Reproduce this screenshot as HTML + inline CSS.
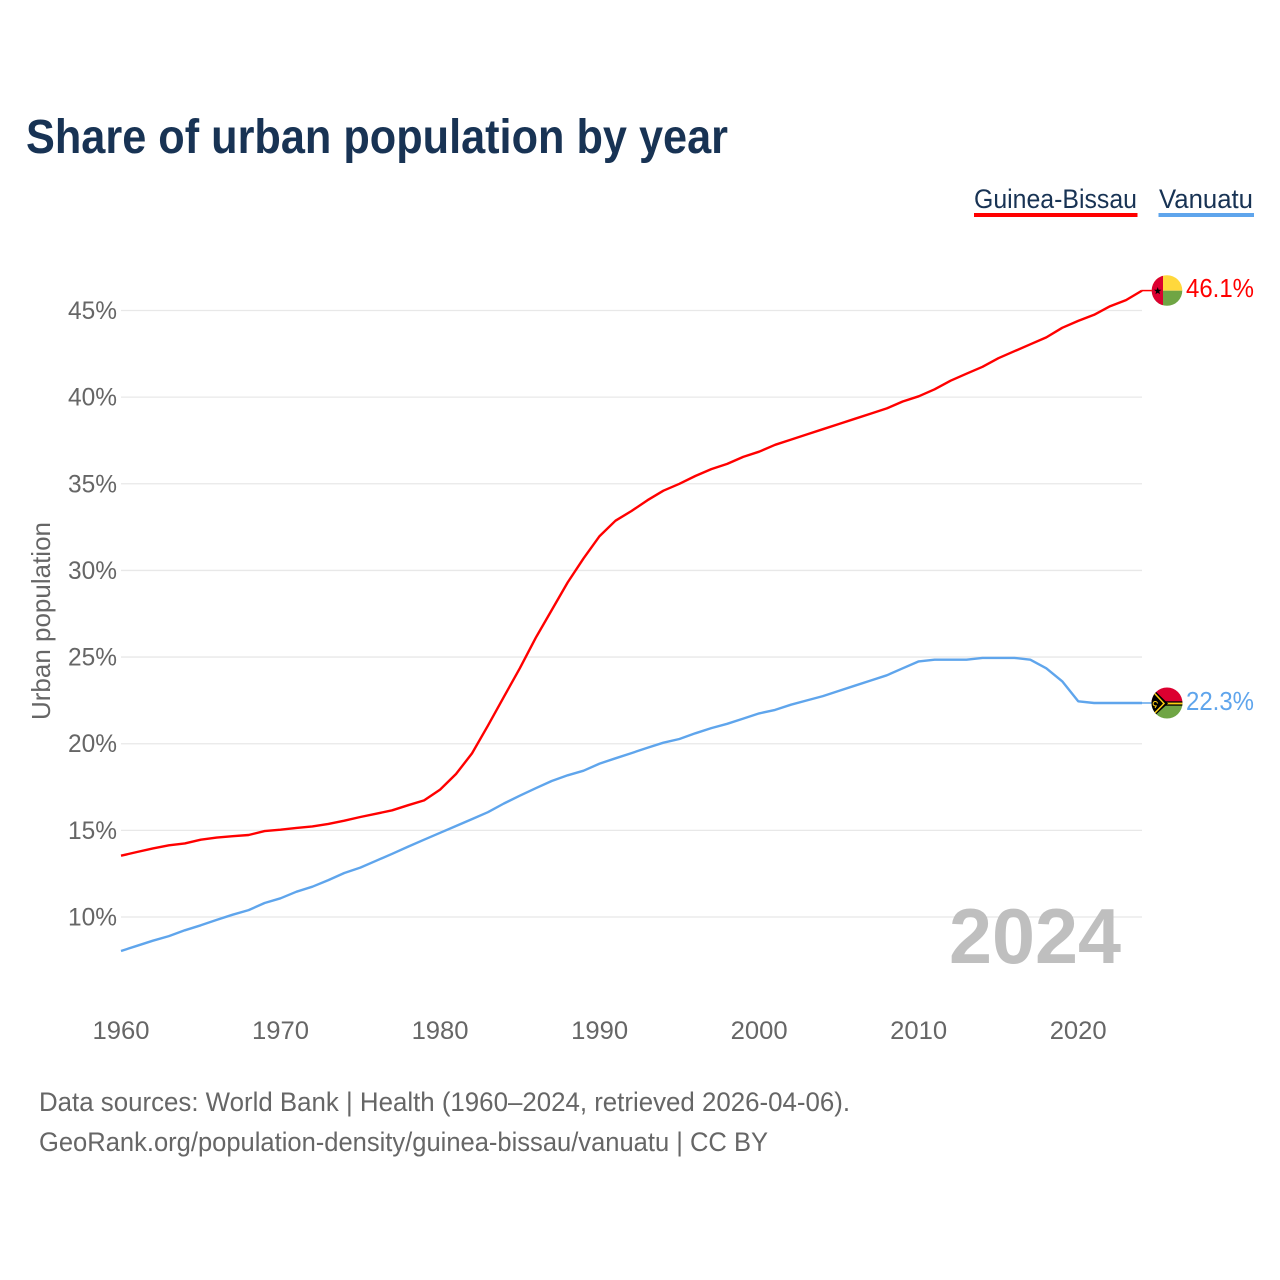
<!DOCTYPE html>
<html lang="en">
<head>
<meta charset="utf-8">
<title>Share of urban population by year</title>
<style>
html,body{margin:0;padding:0;background:#fff;}
svg{display:block;font-family:"Liberation Sans",sans-serif;}
</style>
</head>
<body>
<svg id="chart" width="1280" height="1280" viewBox="0 0 1280 1280" xmlns="http://www.w3.org/2000/svg">
  <defs>
    <clipPath id="clip-gb"><circle cx="1167" cy="290.5" r="15.3"/></clipPath>
    <clipPath id="clip-vu"><circle cx="1167" cy="703" r="15.5"/></clipPath>
  </defs>
  <rect width="1280" height="1280" fill="#fff"/>
  <text x="26" y="153" font-size="48" font-weight="700" fill="#183354" textLength="702" lengthAdjust="spacingAndGlyphs">Share of urban population by year</text>

  <g>
    <g>
      <text x="974" y="208" font-size="27" fill="#183354" textLength="163" lengthAdjust="spacingAndGlyphs">Guinea-Bissau</text>
      <rect x="974" y="213" width="163.5" height="4" fill="#ff0000"/>
    </g>
    <g>
      <text x="1159" y="208" font-size="27" fill="#183354" textLength="94" lengthAdjust="spacingAndGlyphs">Vanuatu</text>
      <rect x="1158.5" y="213" width="95.5" height="4" fill="#5fa5ec"/>
    </g>
  </g>

  <g id="grid"></g>
  <g id="yticks"></g>
  <g id="xticks"></g>
  <text transform="translate(50,621) rotate(-90)" text-anchor="middle" font-size="26" fill="#666" textLength="198" lengthAdjust="spacingAndGlyphs">Urban population</text>

  <text x="949" y="963" font-size="78" font-weight="700" fill="#bfbfbf" textLength="172" lengthAdjust="spacingAndGlyphs">2024</text>

  <g id="series"></g>

  <g clip-path="url(#clip-gb)">
    <rect x="1151" y="275" width="32" height="15.7" fill="#ffd83c"/>
    <rect x="1151" y="290.7" width="32" height="16" fill="#6fa544"/>
    <rect x="1151" y="275" width="12" height="32" fill="#dc0030"/>
    <polygon points="1157.7,287 1158.6,289.8 1161.5,289.8 1159.2,291.5 1160,294.3 1157.7,292.6 1155.4,294.3 1156.2,291.5 1153.9,289.8 1156.8,289.8" fill="#000"/>
  </g>
  <g clip-path="url(#clip-vu)">
    <rect x="1151" y="687" width="32" height="16" fill="#dc0030"/>
    <rect x="1151" y="703" width="32" height="16" fill="#6fa544"/>
    <rect x="1160" y="701.3" width="23" height="4.4" fill="#000"/>
    <rect x="1163" y="702.6" width="20" height="1.8" fill="#fdce12"/>
    <polygon points="1151,687 1151,719 1168,703.5" fill="#000"/>
    <polyline points="1151,689.5 1164,703.5 1151,717" fill="none" stroke="#fdce12" stroke-width="1.5"/>
    <path d="M1157.5,703.5 a2.2,2.2 0 1 0 -1,2 l-1.5,2.5" fill="none" stroke="#fdce12" stroke-width="1"/>
  </g>

  <text id="value-guinea-bissau" x="1186" y="297" font-size="26" fill="#ff0000" textLength="68" lengthAdjust="spacingAndGlyphs">46.1%</text>
  <text id="value-vanuatu" x="1186" y="710" font-size="26" fill="#5fa5ec" textLength="68" lengthAdjust="spacingAndGlyphs">22.3%</text>

  <g>
    <text x="39" y="1111" font-size="26.5" fill="#666" textLength="811" lengthAdjust="spacingAndGlyphs">Data sources: World Bank | Health (1960–2024, retrieved 2026-04-06).</text>
    <text x="39" y="1151" font-size="26.5" fill="#666" textLength="729" lengthAdjust="spacingAndGlyphs">GeoRank.org/population-density/guinea-bissau/vanuatu | CC BY</text>
  </g>
</svg>
<script>
const years = [1960,1961,1962,1963,1964,1965,1966,1967,1968,1969,1970,1971,1972,1973,1974,1975,1976,1977,1978,1979,1980,1981,1982,1983,1984,1985,1986,1987,1988,1989,1990,1991,1992,1993,1994,1995,1996,1997,1998,1999,2000,2001,2002,2003,2004,2005,2006,2007,2008,2009,2010,2011,2012,2013,2014,2015,2016,2017,2018,2019,2020,2021,2022,2023,2024];
const guineaBissau = [13.54,13.75,13.96,14.14,14.25,14.46,14.58,14.66,14.73,14.96,15.04,15.14,15.23,15.37,15.56,15.77,15.96,16.16,16.45,16.73,17.35,18.25,19.44,21.04,22.71,24.35,26.12,27.71,29.31,30.7,31.98,32.87,33.43,34.05,34.6,35.0,35.45,35.85,36.15,36.55,36.85,37.25,37.55,37.85,38.15,38.45,38.75,39.05,39.35,39.75,40.05,40.45,40.95,41.35,41.75,42.25,42.65,43.05,43.45,44.0,44.4,44.75,45.25,45.6,46.15];
const vanuatu = [8.04,8.34,8.63,8.9,9.23,9.52,9.83,10.13,10.4,10.81,11.08,11.46,11.75,12.13,12.54,12.85,13.25,13.65,14.06,14.46,14.86,15.25,15.65,16.05,16.55,17.0,17.43,17.85,18.18,18.44,18.85,19.16,19.46,19.77,20.06,20.27,20.6,20.9,21.15,21.45,21.75,21.95,22.25,22.5,22.75,23.05,23.35,23.65,23.95,24.35,24.75,24.85,24.85,24.85,24.95,24.95,24.95,24.85,24.35,23.6,22.45,22.35,22.35,22.35,22.35];
const yTickValues = [10,15,20,25,30,35,40,45];
const yTickLabels = ["10%","15%","20%","25%","30%","35%","40%","45%"];
const xTickValues = [1960,1970,1980,1990,2000,2010,2020];
const xTickLabels = ["1960","1970","1980","1990","2000","2010","2020"];

const NS = "http://www.w3.org/2000/svg";
function xScale(year){ return 121 + (year - 1960) * (1142 - 121) / 64; }
function yScale(value){ return 917 - (value - 10) * (917 - 310.5) / 35; }

const gridGroup = document.getElementById("grid");
const yTickGroup = document.getElementById("yticks");
const xTickGroup = document.getElementById("xticks");
const seriesGroup = document.getElementById("series");

yTickValues.forEach(function(v, i){
  const line = document.createElementNS(NS, "line");
  
  
  line.setAttribute("x1", xScale(1960));
  line.setAttribute("x2", xScale(2024));
  line.setAttribute("y1", yScale(v));
  line.setAttribute("y2", yScale(v));
  line.setAttribute("stroke", "#e8e8e8");
  line.setAttribute("stroke-width", "1.3");
  gridGroup.appendChild(line);

  const label = document.createElementNS(NS, "text");
  
  
  label.setAttribute("x", 117);
  label.setAttribute("y", yScale(v) + 8.5);
  label.setAttribute("text-anchor", "end");
  label.setAttribute("font-size", "25");
  label.setAttribute("fill", "#666");
  label.setAttribute("textLength", "49");
  label.setAttribute("lengthAdjust", "spacingAndGlyphs");
  label.textContent = yTickLabels[i];
  yTickGroup.appendChild(label);
});

xTickValues.forEach(function(v, i){
  const label = document.createElementNS(NS, "text");
  
  
  label.setAttribute("x", xScale(v));
  label.setAttribute("y", 1039);
  label.setAttribute("text-anchor", "middle");
  label.setAttribute("font-size", "25");
  label.setAttribute("fill", "#666");
  label.setAttribute("textLength", "57");
  label.setAttribute("lengthAdjust", "spacingAndGlyphs");
  label.textContent = xTickLabels[i];
  xTickGroup.appendChild(label);
});

function linePoints(values){
  return values.map(function(v, i){
    return xScale(years[i]).toFixed(1) + "," + yScale(v).toFixed(1);
  }).join(" ");
}

const gbLine = document.createElementNS(NS, "polyline");


gbLine.setAttribute("points", linePoints(guineaBissau));
gbLine.setAttribute("fill", "none");
gbLine.setAttribute("stroke", "#ff0000");
gbLine.setAttribute("stroke-width", "2.4");
gbLine.setAttribute("stroke-linejoin", "round");
seriesGroup.appendChild(gbLine);

const vuLine = document.createElementNS(NS, "polyline");


vuLine.setAttribute("points", linePoints(vanuatu));
vuLine.setAttribute("fill", "none");
vuLine.setAttribute("stroke", "#5fa5ec");
vuLine.setAttribute("stroke-width", "2.4");
vuLine.setAttribute("stroke-linejoin", "round");
seriesGroup.appendChild(vuLine);

const gbConnector = document.createElementNS(NS, "line");


gbConnector.setAttribute("x1", xScale(2024));
gbConnector.setAttribute("x2", xScale(2024) + 10);
gbConnector.setAttribute("y1", yScale(guineaBissau[guineaBissau.length - 1]));
gbConnector.setAttribute("y2", yScale(guineaBissau[guineaBissau.length - 1]));
gbConnector.setAttribute("stroke", "#ff0000");
gbConnector.setAttribute("stroke-width", "1.5");
seriesGroup.appendChild(gbConnector);

const vuConnector = document.createElementNS(NS, "line");


vuConnector.setAttribute("x1", xScale(2024));
vuConnector.setAttribute("x2", xScale(2024) + 10);
vuConnector.setAttribute("y1", yScale(vanuatu[vanuatu.length - 1]));
vuConnector.setAttribute("y2", yScale(vanuatu[vanuatu.length - 1]));
vuConnector.setAttribute("stroke", "#5fa5ec");
vuConnector.setAttribute("stroke-width", "1.5");
seriesGroup.appendChild(vuConnector);
</script>
</body>
</html>
